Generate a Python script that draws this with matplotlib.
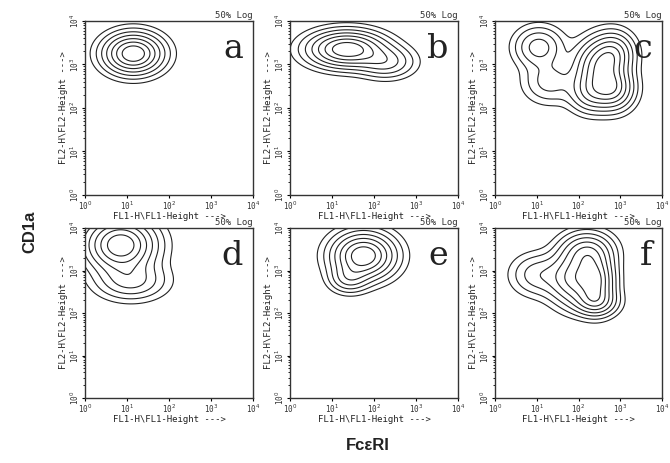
import matplotlib.pyplot as plt
import numpy as np

# panel letters and the fitted density components for each panel
# each component: (log10 FL1 centre, log10 FL2 centre, sd x, sd y, weight)
panels = ["a", "b", "c", "d", "e", "f"]
comp_a = [(1.15, 3.25, 0.42, 0.28, 1.0)]
comp_b = [(1.35, 3.35, 0.55, 0.25, 1.0), (2.3, 3.05, 0.4, 0.22, 0.35)]
comp_c = [(1.05, 3.4, 0.35, 0.28, 0.55), (1.3, 2.6, 0.38, 0.3, 0.35),
          (2.45, 2.95, 0.34, 0.37, 0.9), (2.85, 2.45, 0.3, 0.3, 0.9),
          (2.85, 3.25, 0.3, 0.3, 0.75), (2.3, 2.35, 0.32, 0.28, 0.6)]
comp_d = [(0.85, 3.6, 0.5, 0.38, 1.0), (1.1, 2.75, 0.5, 0.27, 0.35)]
comp_e = [(1.75, 3.35, 0.45, 0.33, 1.0), (1.4, 2.8, 0.28, 0.2, 0.3)]
comp_f = [(1.9, 2.8, 0.38, 0.38, 0.9), (2.45, 2.75, 0.27, 0.38, 0.9),
          (2.2, 3.45, 0.38, 0.28, 0.75), (1.0, 2.9, 0.38, 0.3, 0.35),
          (2.4, 2.25, 0.32, 0.2, 0.55)]
components = [comp_a, comp_b, comp_c, comp_d, comp_e, comp_f]

# fraction of peak density drawn as contour lines
level_frac = [0.05, 0.11, 0.2, 0.32, 0.47, 0.64, 0.82]

decades = [0, 1, 2, 3, 4]
tick_labels = ["10$^0$", "10$^1$", "10$^2$", "10$^3$", "10$^4$"]

# axes boxes in pixels (left, top, right, bottom) on a 670x463 canvas
W, H = 670, 463
col_x = [(85, 253), (290, 458), (495, 662)]
row_y = [(21, 195), (228, 398)]

fig = plt.figure(figsize=(6.7, 4.63), dpi=100)
fig.patch.set_facecolor("white")

g = np.linspace(0, 4, 240)
gx, gy = np.meshgrid(g, g)

mono = "DejaVu Sans Mono"

for i, (letter, comps) in enumerate(zip(panels, components)):
    r, c = divmod(i, 3)
    x0, x1 = col_x[c]
    y0, y1 = row_y[r]
    ax = fig.add_axes([x0 / W, 1 - y1 / H, (x1 - x0) / W, (y1 - y0) / H])

    dens = np.zeros_like(gx)
    for cx, cy, sx, sy, w in comps:
        dens += w * np.exp(-0.5 * (((gx - cx) / sx) ** 2 + ((gy - cy) / sy) ** 2))
    levels = [f * dens.max() for f in level_frac]
    ax.contour(10 ** gx, 10 ** gy, dens, levels=levels, colors="#222222",
               linewidths=0.8)

    ax.set_xscale("log")
    ax.set_yscale("log")
    ax.set_xlim(1, 1e4)
    ax.set_ylim(1, 1e4)
    ticks = [10 ** d for d in decades]
    ax.set_xticks(ticks)
    ax.set_yticks(ticks)
    ax.set_xticklabels(tick_labels, fontsize=5.5, family=mono, color="#333333")
    ax.set_yticklabels(tick_labels, fontsize=5.5, family=mono, color="#333333",
                       rotation=90, va="center")
    ax.tick_params(which="major", length=2.5, width=0.8, pad=0.5, direction="out")
    ax.tick_params(which="minor", length=1.5, width=0.6, direction="out")
    for sp in ax.spines.values():
        sp.set_linewidth(1.0)
        sp.set_color("#333333")

    ax.set_xlabel("FL1-H\\FL1-Height --->", fontsize=6.5, family=mono,
                  color="#222222", labelpad=0)
    ax.set_ylabel("FL2-H\\FL2-Height --->", fontsize=6.5, family=mono,
                  color="#222222", labelpad=0)
    ax.text(1.0, 1.005, "50% Log", transform=ax.transAxes, ha="right",
            va="bottom", fontsize=6.5, family=mono, color="#333333")
    ax.text(0.94, 0.93, letter, transform=ax.transAxes, ha="right", va="top",
            fontsize=24, family="DejaVu Serif", color="#222222")

fig.text(30 / W, 1 - 232 / H, "CD1a", rotation=90, ha="center", va="center",
         fontsize=12, fontweight="bold", family="Liberation Sans", color="#222222")
fig.text(368 / W, 1 - 446 / H, "Fc\u03b5RI", ha="center", va="center",
         fontsize=12, fontweight="bold", family="Liberation Sans", color="#222222")

fig.savefig("out.png", dpi=100, facecolor="white")
